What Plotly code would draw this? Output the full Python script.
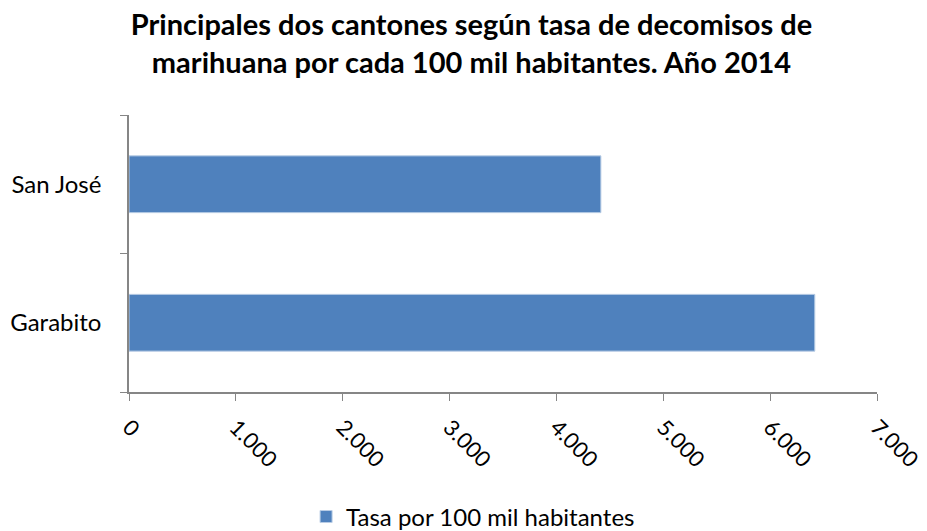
import plotly.graph_objects as go

# datos
cantones = ['Garabito', 'San José']
tasa = [6418, 4416]
x_ticks = [0, 1000, 2000, 3000, 4000, 5000, 6000, 7000]

fig = go.Figure()

fig.add_trace(go.Bar(
    y=cantones,
    x=tasa,
    orientation='h',
    name='Tasa por 100 mil habitantes',
    marker=dict(color='#4f81bd', line=dict(color='#b9cde5', width=1)),
))

fig.update_layout(
    title=dict(
        text='<b>Principales dos cantones según tasa de decomisos de<br>marihuana por cada 100 mil habitantes. Año 2014</b>',
        x=0.5, xanchor='center', yref='container', y=0.949, yanchor='middle',
        font=dict(family='Lato', size=29, color='black'),
        automargin=False,
    ),
    width=927,
    height=531,
    margin=dict(l=121, r=58, t=107, b=147, autoexpand=False),
    paper_bgcolor='white',
    plot_bgcolor='white',
    separators=',.',
    bargap=0.59,
    font=dict(family='Lato', size=24, color='black'),
    xaxis=dict(
        range=[0, 7000],
        tickvals=x_ticks,
        tickformat=',d',
        tickangle=45,
        tickfont=dict(size=22),
        showgrid=False,
        zeroline=False,
        showline=True,
        linecolor='#868686',
        linewidth=1.5,
        ticks='outside',
        ticklen=7,
        tickcolor='#868686',
        ticklabelstandoff=5,
        automargin=False,
    ),
    yaxis=dict(
        showgrid=False,
        showline=True,
        linecolor='#868686',
        linewidth=1.5,
        ticks='outside',
        ticklen=7,
        tickcolor='#868686',
        tickson='boundaries',
        ticklabelstandoff=21,
        automargin=False,
    ),
    showlegend=True,
    legend=dict(
        orientation='h',
        x=0.46, xanchor='center',
        y=-0.451, yanchor='middle',
        font=dict(family='Lato', size=24),
    ),
)

fig.write_html("out.html")
